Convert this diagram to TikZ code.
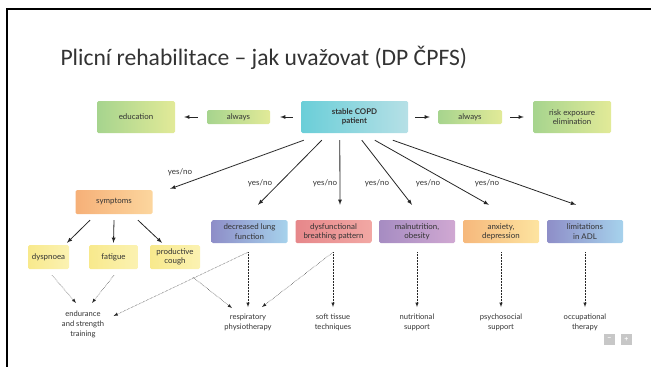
\documentclass[tikz,border=0pt]{standalone}
\usepackage{fontspec}
\setmainfont{Lato}
\newfontfamily\titlefont{Carlito}
\usetikzlibrary{shapes}
\usetikzlibrary{arrows}
\usetikzlibrary{calc}
\definecolor{grnL}{RGB}{166,212,142}
\definecolor{grnR}{RGB}{226,234,152}
\definecolor{cyaL}{RGB}{106,206,216}
\definecolor{cyaR}{RGB}{182,224,230}
\definecolor{ornL}{RGB}{246,176,120}
\definecolor{ornR}{RGB}{252,214,158}
\definecolor{yelL}{RGB}{248,233,140}
\definecolor{yelR}{RGB}{251,242,178}
\definecolor{bluL}{RGB}{142,142,200}
\definecolor{bluR}{RGB}{166,210,236}
\definecolor{redL}{RGB}{230,135,138}
\definecolor{redR}{RGB}{242,168,164}
\definecolor{purL}{RGB}{166,140,194}
\definecolor{purR}{RGB}{208,168,210}
\definecolor{anxL}{RGB}{246,184,124}
\definecolor{anxR}{RGB}{253,228,160}

\begin{document}
\begin{tikzpicture}[x=1pt,y=-1pt,>=latex,
  box/.style={rounded corners=1.5pt, align=center, inner sep=0pt, text=black!80,
    font=\fontsize{7.9}{9.3}\selectfont},
  gbox/.style={box, left color=grnL, right color=grnR},
  ybox/.style={box, left color=yelL, right color=yelR, minimum height=24},
  pbox/.style={box, minimum width=76, minimum height=23},
  lbl/.style={align=center, text=black!80, font=\fontsize{7.6}{10}\selectfont},
  yn/.style={text=black!80, font=\fontsize{8}{9}\selectfont},
  solidarrow/.style={->, line width=0.8pt, black!85},
  dotarrow/.style={->, densely dotted, line width=0.5pt, black!85}]
\useasboundingbox (0,0) rectangle (651,367);
\draw[line width=1.6pt] (7,367) -- (7,9) -- (651,9);
\node[anchor=base west, text=black!80, font=\titlefont\fontsize{23.6}{28}\selectfont] (title) at (57,65) {Plicní rehabilitace – jak uvažovat (DP ČPFS)};

% top row
\node[gbox, minimum width=78, minimum height=32] (edu) at (136,117) {education};
\node[gbox, minimum width=63, minimum height=14] (alwl) at (238.5,117) {always};
\node[box, left color=cyaL, right color=cyaR, minimum width=107, minimum height=32,
  font=\bfseries\fontsize{7.9}{9.3}\selectfont] (copd) at (354.5,117) {stable COPD\\patient};
\node[gbox, minimum width=64, minimum height=14] (alwr) at (470,117) {always};
\node[gbox, minimum width=78, minimum height=32] (risk) at (572,117) {risk exposure\\elimination};
\draw[solidarrow] ($(alwl.west)+(-9,0)$) -- ($(edu.east)+(9,0)$);
\draw[solidarrow] ($(copd.west)+(-8,0)$) -- ($(alwl.east)+(10,0)$);
\draw[solidarrow] ($(copd.east)+(7,0)$) -- ($(alwr.west)+(-8,0)$);
\draw[solidarrow] ($(alwr.east)+(8,0)$) -- ($(risk.west)+(-9,0)$);

% symptoms
\node[box, left color=ornL, right color=ornR, minimum width=77, minimum height=24] (symp) at (114,202) {symptoms};
\node[ybox, minimum width=41] (dysp) at (48.5,257) {dyspnoea};
\node[ybox, minimum width=49] (fatg) at (113.5,257) {fatigue};
\node[ybox, minimum width=50] (cough) at (175,257) {productive\\cough};
\draw[solidarrow] ($(symp.south)+(-24,6)$) -- ($(dysp.north)+(18.5,-2)$);
\draw[solidarrow] ($(symp.south)+(0,6)$) -- ($(fatg.north)+(0,-2)$);
\draw[solidarrow] ($(symp.south)+(24,6)$) -- ($(cough.north)+(-13,-2)$);

% problem boxes
\node[pbox, left color=bluL, right color=bluR] (lung) at (249.5,231.5) {decreased lung\\function};
\node[pbox, left color=redL, right color=redR] (breath) at (333.5,231.5) {dysfunctional\\breathing pattern};
\node[pbox, left color=purL, right color=purR] (malnu) at (417,231.5) {malnutrition,\\obesity};
\node[pbox, left color=anxL, right color=anxR] (anx) at (501,231.5) {anxiety,\\depression};
\node[pbox, left color=bluL, right color=bluR] (adl) at (585,231.5) {limitations\\in ADL};

\draw[solidarrow] ($(copd.south west)+(3,7)$) -- ($(symp.north east)+(17.5,-1)$);
\draw[solidarrow] ($(copd.south west)+(21,7)$) -- ($(lung.north)+(8.5,-15)$);
\draw[solidarrow] ($(copd.south west)+(39,7)$) -- ($(breath.north)+(6.5,-15)$);
\draw[solidarrow] ($(copd.south west)+(61,7)$) -- ($(malnu.north)+(-5,-15)$);
\draw[solidarrow] ($(copd.south west)+(74,7)$) -- ($(anx.north)+(-12,-15)$);
\draw[solidarrow] ($(copd.south west)+(92,7)$) -- ($(adl.north)+(-9,-15)$);

\node[yn] (yn1) at (180,172) {yes/no};
\node[yn] (yn2) at (260,183) {yes/no};
\node[yn] (yn3) at (325,183) {yes/no};
\node[yn] (yn4) at (377,183) {yes/no};
\node[yn] (yn5) at (428,183) {yes/no};
\node[yn] (yn6) at (487,183) {yes/no};

% outcomes
\node[lbl] (endur) at (83,324) {endurance\\and strength\\training};
\node[lbl] (resp) at (248,322) {respiratory\\physiotherapy};
\node[lbl] (soft) at (333,322) {soft tissue\\techniques};
\node[lbl] (nutr) at (417,322) {nutritional\\support};
\node[lbl] (psych) at (501,322) {psychosocial\\support};
\node[lbl] (occu) at (585,322) {occupational\\therapy};

\draw[dotarrow] ($(dysp.south)+(3.5,6)$) -- ($(endur.north)+(-7,-4)$);
\draw[dotarrow] ($(fatg.south)+(0.5,6)$) -- ($(endur.north)+(9,-4)$);
\draw[dotarrow] ($(cough.south)+(18,8)$) -- ($(resp.north)+(-16,-2)$);
\draw[dotarrow] ($(lung.south)+(-1.5,9)$) -- ($(resp.north)+(0,-3)$);
\draw[dotarrow] ($(lung.south)+(-1.5,9)$) -- ($(endur.east)+(6,-8)$);
\draw[dotarrow] ($(breath.south)+(-0.5,9)$) -- ($(soft.north)+(0,-3)$);
\draw[dotarrow] ($(breath.south)+(-0.5,9)$) -- ($(resp.north)+(14,-3)$);
\draw[dotarrow] ($(malnu.south)+(0,9)$) -- ($(nutr.north)+(0,-3)$);
\draw[dotarrow] ($(anx.south)+(0,9)$) -- ($(psych.north)+(0,-3)$);
\draw[dotarrow] ($(adl.south)+(0,9)$) -- ($(occu.north)+(0,-3)$);

% zoom buttons
\node[fill=black!22, minimum size=11, inner sep=0pt, text=white, font=\bfseries\fontsize{7}{7}\selectfont] (minus) at (609.5,339.5) {−};
\node[fill=black!22, minimum size=11, inner sep=0pt, text=white, font=\bfseries\fontsize{7}{7}\selectfont] (plus) at (626.5,339.5) {+};
\end{tikzpicture}
\end{document}
